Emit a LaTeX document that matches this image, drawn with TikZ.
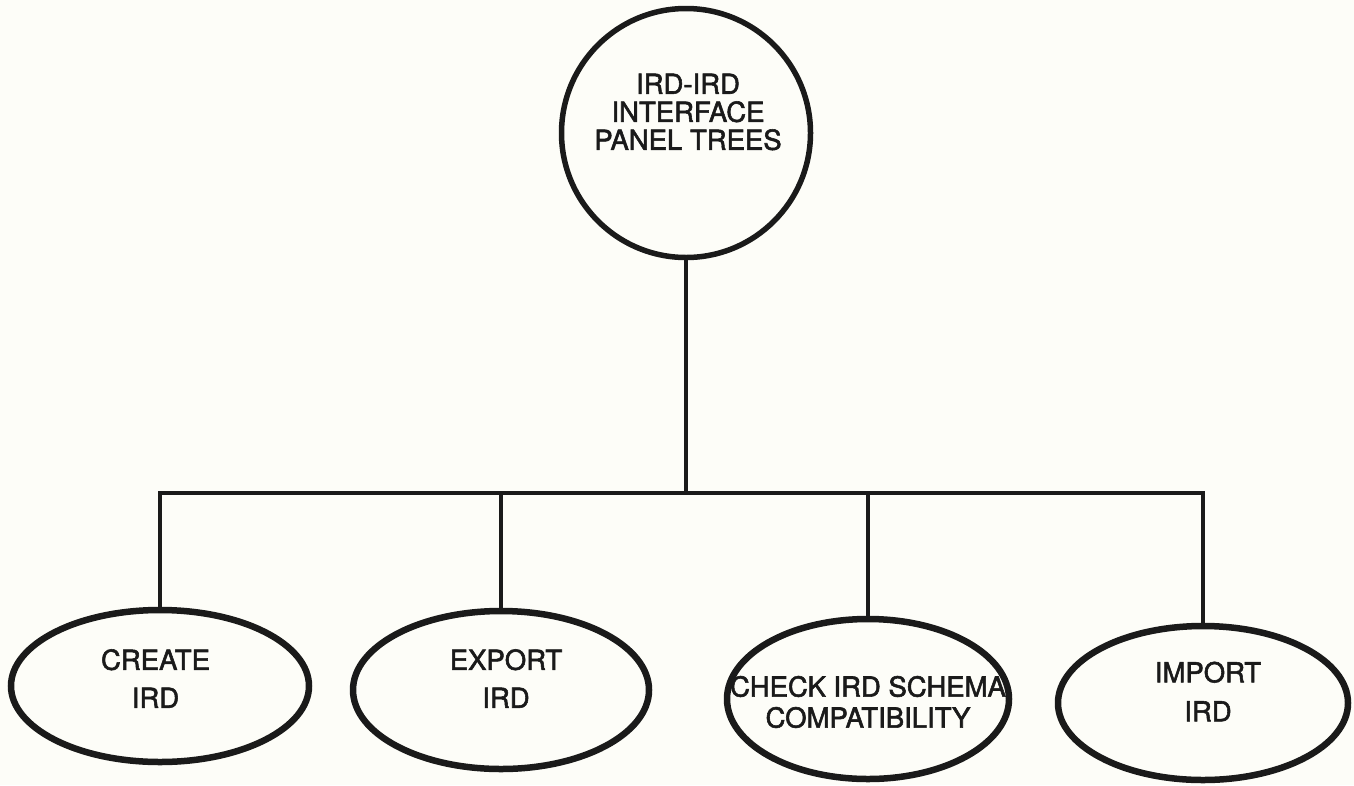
\documentclass[tikz,border=0pt]{standalone}
\usepackage{fontspec}
\setmainfont{TeX Gyre Heros}[FakeBold=2]
\usetikzlibrary{shapes.geometric}
\definecolor{paper}{HTML}{FDFDF8}
\definecolor{ink}{HTML}{1A1A1A}
\begin{document}
\begin{tikzpicture}[x=1pt,y=-1pt,
  conn/.style={line width=3.2pt, draw=ink},
  leaf/.style={ellipse, draw=ink, line width=6.5pt, inner sep=0pt},
  root/.style={circle, draw=ink, line width=5.5pt, minimum size=249pt, inner sep=0pt},
  lbl/.style={align=center, inner sep=0pt, text=ink}]
\fill[paper] (0,0) rectangle (1354,785);
\useasboundingbox (0,0) rectangle (1354,785);
% root
\node[root] (top) at (686,133) {};
\node[lbl, font=\fontsize{27.5}{28}\selectfont] (toptxt) at (688,112) {IRD-IRD\\INTERFACE\\PANEL TREES};
% leaves
\node[leaf, minimum width=298pt, minimum height=152pt] (create) at (160,686) {};
\node[leaf, minimum width=296pt, minimum height=158pt] (export) at (501,690) {};
\node[leaf, minimum width=282pt, minimum height=160pt] (check) at (868,699) {};
\node[leaf, minimum width=290pt, minimum height=154pt] (import) at (1203,703) {};
\node[lbl, font=\fontsize{27.5}{38}\selectfont] (createtxt) at (155.5,678.5) {CREATE\\IRD};
\node[lbl, font=\fontsize{27.5}{38}\selectfont] (exporttxt) at (506,678.5) {EXPORT\\IRD};
\node[lbl, font=\fontsize{27.5}{31}\selectfont] (checktxt) at (868,702) {CHECK IRD SCHEMA\\COMPATIBILITY};
\node[lbl, font=\fontsize{27.5}{39}\selectfont] (importtxt) at (1208,691.5) {IMPORT\\IRD};
% connectors
\coordinate (bar) at (686,493);
\draw[conn] (top.south) -- (top.south |- bar);
\draw[conn] (create.north) -- (create.north |- bar) -- (import.north |- bar) -- (import.north);
\draw[conn] (export.north) -- (export.north |- bar);
\draw[conn] (check.north) -- (check.north |- bar);
\end{tikzpicture}
\end{document}
